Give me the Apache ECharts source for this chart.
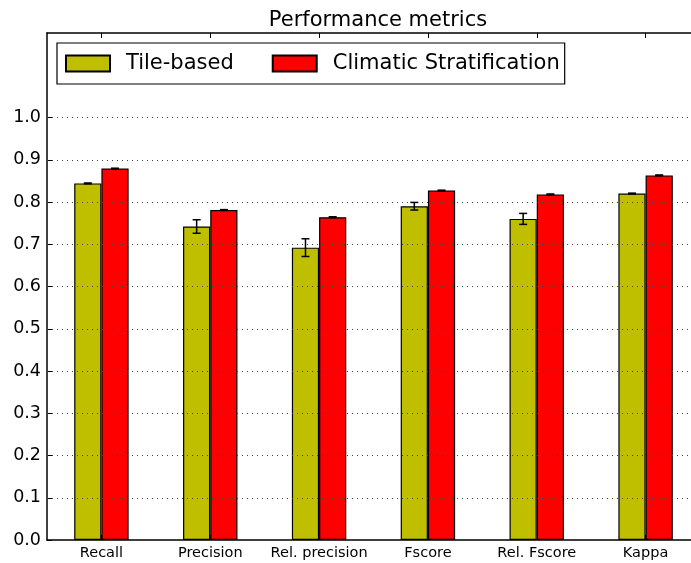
<!DOCTYPE html>
<html>
<head>
<meta charset="utf-8">
<script src="https://cdn.jsdelivr.net/npm/echarts@6/dist/echarts.min.js"></script>
<style>
  html, body { margin: 0; padding: 0; background: #fff; overflow: hidden; }
  #chart { width: 700px; height: 563px; }
</style>
</head>
<body>
<div id="chart"></div>
<script>
// Metric names along the x axis
const categories = ['Recall', 'Precision', 'Rel. precision', 'Fscore', 'Rel. Fscore', 'Kappa'];
// Tile-based results: mean and standard deviation
const tileBased = [0.844, 0.742, 0.692, 0.790, 0.760, 0.820];
const tileBasedErr = [0.001, 0.016, 0.021, 0.009, 0.013, 0.001];
// Climatic stratification results
const climatic = [0.879, 0.781, 0.764, 0.827, 0.818, 0.863];
const climaticErr = [0.001, 0.001, 0.001, 0.001, 0.001, 0.001];
// Labelled y ticks and dotted grid levels
const yTicks = [0, 0.1, 0.2, 0.3, 0.4, 0.5, 0.6, 0.7, 0.8, 0.9, 1.0];
const gridLevels = [0.1, 0.2, 0.3, 0.4, 0.5, 0.6, 0.7, 0.8, 0.9, 1.0];

const FONT = 'DejaVu Sans';
const chart = echarts.init(document.getElementById('chart'), null, { renderer: 'canvas' });

// Error bar drawn at a bar's centre; side = -1 for the left bar, +1 for the right one
function errorBars(means, errs, side) {
  return {
    type: 'custom',
    z: 10,
    silent: true,
    data: means.map((m, i) => [i, m, errs[i]]),
    renderItem: function (params, api) {
      const i = api.value(0), m = api.value(1), e = api.value(2);
      const band = api.size([1, 0])[0];
      const dx = side * band * 0.125;
      const lo = api.coord([i, m - e]);
      const hi = api.coord([i, m + e]);
      const x = lo[0] + dx;
      const cap = 4;
      const style = { stroke: '#000', lineWidth: 1.5 };
      return {
        type: 'group',
        children: [
          { type: 'line', shape: { x1: x, y1: lo[1], x2: x, y2: hi[1] }, style },
          { type: 'line', shape: { x1: x - cap, y1: lo[1], x2: x + cap, y2: lo[1] }, style },
          { type: 'line', shape: { x1: x - cap, y1: hi[1], x2: x + cap, y2: hi[1] }, style }
        ]
      };
    }
  };
}

const axisLineStyle = { color: '#000', width: 1.5 };

chart.setOption({
  animation: false,
  backgroundColor: '#fff',
  title: {
    text: 'Performance metrics',
    left: 373, textAlign: 'center',
    top: 5,
    textStyle: { fontFamily: FONT, fontSize: 21, fontWeight: 'normal', color: '#000' }
  },
  legend: {
    left: 57, top: 43,
    padding: [10, 5, 10, 8],
    itemWidth: 44, itemHeight: 16, itemGap: 38,
    borderColor: '#000', borderWidth: 1.2, backgroundColor: '#fff',
    icon: 'rect',
    textStyle: { fontFamily: FONT, fontSize: 21, color: '#000', padding: [0, 0, 0, 11] },
    data: ['Tile-based', 'Climatic Stratification']
  },
  grid: { left: 47, top: 33, width: 653, height: 507, containLabel: false },
  xAxis: [
    {
      type: 'category', data: categories, position: 'bottom',
      axisLine: { lineStyle: axisLineStyle },
      axisTick: { show: true, inside: true, alignWithLabel: true, length: 5, lineStyle: { color: '#000' } },
      axisLabel: { fontFamily: FONT, fontSize: 14.5, color: '#000', margin: 6, interval: 0 },
      splitLine: { show: false }
    },
    {
      type: 'category', data: categories, position: 'top',
      axisLine: { lineStyle: axisLineStyle },
      axisTick: { show: true, inside: true, alignWithLabel: true, length: 5, lineStyle: { color: '#000' } },
      axisLabel: { show: false },
      splitLine: { show: false }
    }
  ],
  yAxis: {
    type: 'value', min: 0, max: 1.2, interval: 0.1,
    axisLine: { show: true, lineStyle: axisLineStyle },
    axisTick: { show: true, inside: true, length: 5, lineStyle: { color: '#000' }, customValues: yTicks },
    axisLabel: {
      fontFamily: FONT, fontSize: 17.5, color: '#000', margin: 6,
      customValues: yTicks,
      formatter: v => v.toFixed(1)
    },
    splitLine: { show: false }
  },
  series: [
    {
      name: 'Tile-based', type: 'bar', data: tileBased,
      barWidth: '25%', barGap: '0%',
      itemStyle: { color: '#bfbf00', borderColor: '#000', borderWidth: 1.2 },
      markLine: {
        silent: true, symbol: 'none', z: 8,
        label: { show: false },
        lineStyle: { color: '#444', width: 1, type: [1, 4] },
        data: gridLevels.map(v => ({ yAxis: v }))
      }
    },
    {
      name: 'Climatic Stratification', type: 'bar', data: climatic,
      barWidth: '25%', barGap: '0%',
      itemStyle: { color: '#ff0000', borderColor: '#000', borderWidth: 1.2 }
    },
    errorBars(tileBased, tileBasedErr, -1),
    errorBars(climatic, climaticErr, 1)
  ]
});
</script>
</body>
</html>
